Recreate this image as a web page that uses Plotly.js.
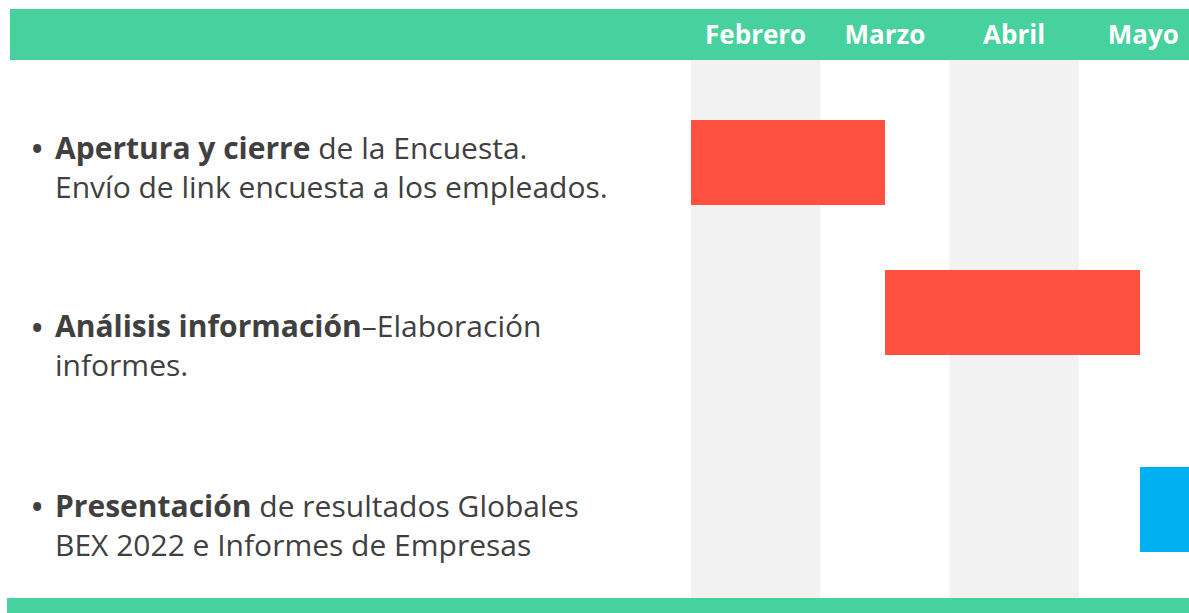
<!DOCTYPE html>
<html>
<head>
<meta charset="utf-8">
<script src="https://cdn.plot.ly/plotly-3.0.1.min.js"></script>
<style>html,body{margin:0;padding:0;background:#fff;}#chart{width:1189px;height:613px;}</style>
</head>
<body>
<div id="chart"></div>
<script>
// ---- data ----
var months = ["Febrero", "Marzo", "Abril", "Mayo"];
var tasks = ["Apertura y cierre", "Análisis información", "Presentación"];
var taskStart = [0, 1.5, 3.47];   // in months from 1 Feb
var taskEnd = [1.5, 3.47, 4.0];
var boldText = ["Apertura y cierre", "Análisis información", "Presentación"];
var line1Rest = [" de la Encuesta.", "–Elaboración", " de resultados Globales"];
var line2Text = ["Envío de link encuesta a los empleados.", "informes.", "BEX 2022 e Informes de Empresas"];

// ---- layout helpers ----
var W = 1189, H = 613, T = 60, B = 15;
var plotH = H - T - B;
function py(pix) { return 1 - (pix - T) / plotH; }

var barColors = ["#FF5040", "#FF5040", "#00B0F0"];
var trace = {
  type: "bar",
  orientation: "h",
  y: tasks,
  base: taskStart,
  x: taskEnd.map(function (e, i) { return e - taskStart[i]; }),
  marker: { color: barColors, line: { width: 0 } },
  width: 0.474,
  offset: [-0.165, -0.329, -0.230],
  hoverinfo: "skip",
  showlegend: false
};

var shapes = [
  { type: "rect", xref: "x", yref: "paper", x0: 0, x1: 1, y0: 0, y1: 1, fillcolor: "#F2F2F2", line: { width: 0 }, layer: "below" },
  { type: "rect", xref: "x", yref: "paper", x0: 2, x1: 3, y0: 0, y1: 1, fillcolor: "#F2F2F2", line: { width: 0 }, layer: "below" },
  { type: "rect", xref: "paper", yref: "paper", x0: 10 / W, x1: 1, y0: 1, y1: py(9), fillcolor: "#47D19E", line: { width: 0 }, layer: "below" },
  { type: "rect", xref: "paper", yref: "paper", x0: 7 / W, x1: 1, y0: py(598), y1: py(613), fillcolor: "#47D19E", line: { width: 0 }, layer: "below" }
];

var blockY = [167, 345, 525];
var bulletY = [148, 327, 506];
var txtFont = { family: "'Open Sans', sans-serif", size: 30, color: "#404040" };
var bulletFont = { family: "'Open Sans', sans-serif", size: 38, color: "#404040" };
var annotations = [];
for (var i = 0; i < tasks.length; i++) {
  annotations.push({ xref: "paper", yref: "paper", x: 37 / W, y: py(bulletY[i]), xanchor: "center", yanchor: "middle",
    text: "•", showarrow: false, font: bulletFont });
  annotations.push({ xref: "paper", yref: "paper", x: 53 / W, y: py(blockY[i]), xanchor: "left", yanchor: "middle",
    text: "<b>" + boldText[i] + "</b>" + line1Rest[i] + "<br>" + line2Text[i],
    showarrow: false, font: txtFont, align: "left" });
}

var layout = {
  width: W, height: H,
  margin: { l: 0, r: 0, t: T, b: B, pad: 0 },
  paper_bgcolor: "#ffffff",
  plot_bgcolor: "rgba(0,0,0,0)",
  bargap: 0,
  xaxis: {
    domain: [691 / W, 1],
    range: [0, (W - 691) / 129.25],
    side: "top",
    tickvals: months.map(function (m, i) { return i + 0.5; }),
    ticktext: months.map(function (m) { return "<b>" + m + "</b>"; }),
    tickfont: { family: "'Open Sans', sans-serif", size: 26, color: "#ffffff" },
    ticks: "",
    ticklabelstandoff: 10,
    showgrid: false, zeroline: false, showline: false, fixedrange: true
  },
  yaxis: {
    type: "category",
    categoryorder: "array",
    categoryarray: tasks,
    range: [2.5, -0.5],
    visible: false, showgrid: false, zeroline: false, fixedrange: true
  },
  shapes: shapes,
  annotations: annotations
};

Plotly.newPlot("chart", [trace], layout, { displayModeBar: false, staticPlot: true });
</script>
</body>
</html>
